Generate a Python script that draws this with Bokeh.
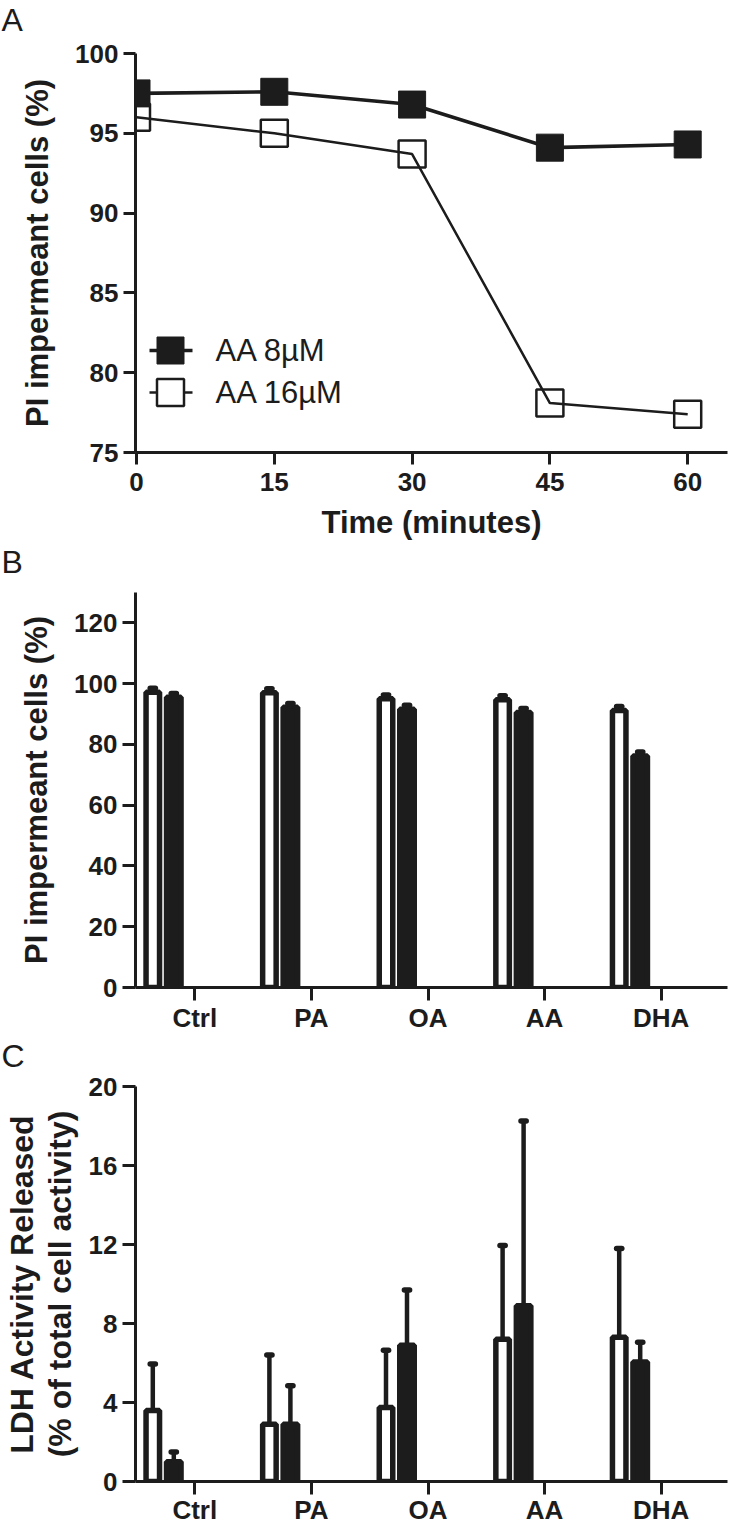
from bokeh.plotting import figure
from bokeh.layouts import column
from bokeh.models import FixedTicker, Range1d, Label, ColumnDataSource
from bokeh.embed import file_html
from bokeh.resources import INLINE

# ---------------- data ----------------
time_min = [0, 15, 30, 45, 60]
aa8_pct = [97.5, 97.6, 96.8, 94.1, 94.3]
aa16_pct = [96.0, 95.0, 93.7, 78.1, 77.4]
series_labels = ["AA 8µM", "AA 16µM"]
time_ticks = [0, 15, 30, 45, 60]
pi_ticks_a = [75, 80, 85, 90, 95, 100]

categories = ["Ctrl", "PA", "OA", "AA", "DHA"]
pi_white = [97.2, 97.0, 95.0, 94.7, 91.2]
pi_white_err = [1.3, 1.3, 1.3, 1.3, 1.3]
pi_black = [95.5, 92.2, 91.6, 90.5, 76.2]
pi_black_err = [1.3, 1.3, 1.3, 1.3, 1.3]
pi_ticks_b = [0, 20, 40, 60, 80, 100, 120]

ldh_white = [3.6, 2.9, 3.75, 7.2, 7.3]
ldh_white_err = [2.35, 3.5, 2.9, 4.75, 4.5]
ldh_black = [1.0, 2.9, 6.9, 8.9, 6.05]
ldh_black_err = [0.5, 1.95, 2.8, 9.35, 1.0]
ldh_ticks = [0, 4, 8, 12, 16, 20]

panel_letters = ["A", "B", "C"]

# ---------------- style ----------------
FONT = "Liberation Sans, Arial, sans-serif"
INK = "#1c1c1c"
W = 737
LEFT = 135
FRAME_W = 592
RIGHT = W - LEFT - FRAME_W


def style(p, tick_out, label_standoff, axis_label_standoff_x=4, axis_label_standoff_y=12):
    for ax in (p.xaxis[0], p.yaxis[0]):
        ax.axis_line_width = 3
        ax.axis_line_color = INK
        ax.major_tick_line_width = 3
        ax.major_tick_line_color = INK
        ax.major_tick_out = tick_out
        ax.major_tick_in = 0
        ax.minor_tick_line_color = None
        ax.major_label_text_font = FONT
        ax.major_label_text_font_style = "bold"
        ax.major_label_text_font_size = "26px"
        ax.major_label_text_color = INK
        ax.major_label_standoff = label_standoff
        ax.axis_label_text_font = FONT
        ax.axis_label_text_font_style = "bold"
        ax.axis_label_text_font_size = "31px"
        ax.axis_label_text_color = INK
    p.yaxis[0].major_label_standoff = 5
    p.xaxis[0].axis_label_standoff = axis_label_standoff_x
    p.yaxis[0].axis_label_standoff = axis_label_standoff_y
    p.grid.visible = False
    p.outline_line_color = None
    p.background_fill_color = "white"
    p.border_fill_color = "white"


def panel_title(p, letter, line_h):
    # panel letter as the plot title, pushed to the top-left corner of the canvas
    p.title.text = letter + "\n "
    p.title.align = "left"
    p.title.vertical_align = "top"
    p.title.offset = -134
    p.title.standoff = 0
    p.title.text_font = FONT
    p.title.text_font_size = "32px"
    p.title.text_font_style = "normal"
    p.title.text_line_height = line_h
    p.title.text_color = INK


# ---------------- panel A ----------------
A_PX_PER_MIN = 137.8 / 15
A_X0 = -1.0 / A_PX_PER_MIN
A_X1 = A_X0 + FRAME_W / A_PX_PER_MIN
A_FRAME_H = 399
a_ppy = A_FRAME_H / 25.0

pA = figure(width=W, height=543, x_range=Range1d(A_X0, A_X1), y_range=Range1d(75, 100),
            output_backend="svg", toolbar_location=None,
            min_border_left=LEFT, min_border_right=RIGHT,
            min_border_top=53, min_border_bottom=91)
style(pA, 12, 8, axis_label_standoff_x=11, axis_label_standoff_y=17)
panel_title(pA, panel_letters[0], 0.4)
pA.xaxis.ticker = FixedTicker(ticks=time_ticks)
pA.yaxis.ticker = FixedTicker(ticks=pi_ticks_a)
pA.xaxis.axis_label = "Time (minutes)"
pA.yaxis.axis_label = "PI impermeant cells (%)"

srcA = ColumnDataSource(dict(t=time_min, a8=aa8_pct, a16=aa16_pct))
pA.line("t", "a16", source=srcA, line_color=INK, line_width=2.5)
pA.scatter("t", "a16", source=srcA, marker="square", size=27, fill_alpha=0,
           line_color=INK, line_width=2.5)
pA.line("t", "a8", source=srcA, line_color=INK, line_width=3.6)
pA.scatter("t", "a8", source=srcA, marker="square", size=27, fill_color=INK,
           line_color=INK, line_width=1)


def ax_x(px_from_frame_left):
    return A_X0 + px_from_frame_left / A_PX_PER_MIN


def ax_y(px_from_frame_top):
    return 100 - px_from_frame_top / a_ppy


# manual legend (pixel offsets relative to the frame)
leg_rows = [297, 339]
for i, lab in enumerate(series_labels):
    yy = ax_y(leg_rows[i])
    pA.line([ax_x(14), ax_x(57)], [yy, yy], line_color=INK, line_width=3.6 if i == 0 else 2.5)
    if i == 0:
        pA.scatter([ax_x(35)], [yy], marker="square", size=27, fill_color=INK, line_color=INK)
    else:
        pA.scatter([ax_x(35)], [yy], marker="square", size=27, fill_color="white",
                   line_color=INK, line_width=2.5)
    pA.add_layout(Label(x=ax_x(80), y=yy, text=lab, text_font=FONT, text_font_size="31px",
                        text_color=INK, text_align="left", text_baseline="middle"))


# ---------------- bar panels ----------------
CAT_PX = 116.6
B_X0 = -59.3 / CAT_PX
B_X1 = B_X0 + FRAME_W / CAT_PX
WHITE_OFF = -42.0 / CAT_PX
BLACK_OFF = -21.0 / CAT_PX
WHITE_W = 13.5 / CAT_PX
BLACK_W = 14.5 / CAT_PX
CAP_HALF = 2.6 / CAT_PX


def bar_panel(height, top, bottom, ymax, ticks, white, white_err, black, black_err,
              ylabel, letter, letter_lh, label_size, tick_out, lab_standoff,
              ax_standoff, line_h):
    p = figure(width=W, height=height, x_range=Range1d(B_X0, B_X1), y_range=Range1d(0, ymax),
               output_backend="svg", toolbar_location=None,
               min_border_left=LEFT, min_border_right=RIGHT,
               min_border_top=top, min_border_bottom=bottom)
    style(p, tick_out, lab_standoff, axis_label_standoff_y=ax_standoff)
    panel_title(p, letter, letter_lh)
    p.yaxis[0].axis_label_text_font_size = label_size
    p.yaxis[0].axis_label_text_line_height = line_h
    p.xaxis.ticker = FixedTicker(ticks=list(range(len(categories))))
    p.xaxis.major_label_overrides = {i: c for i, c in enumerate(categories)}
    p.yaxis.ticker = FixedTicker(ticks=ticks)
    p.yaxis.axis_label = ylabel

    idx = list(range(len(categories)))
    xw = [i + WHITE_OFF for i in idx]
    xb = [i + BLACK_OFF for i in idx]
    wt = [v + e for v, e in zip(white, white_err)]
    bt = [v + e for v, e in zip(black, black_err)]
    src = ColumnDataSource(dict(xw=xw, xb=xb, white=white, black=black, wt=wt, bt=bt,
                                xw0=[x - CAP_HALF for x in xw], xw1=[x + CAP_HALF for x in xw],
                                xb0=[x - CAP_HALF for x in xb], xb1=[x + CAP_HALF for x in xb]))
    p.vbar(x="xw", top="white", bottom=0, width=WHITE_W, source=src,
           fill_color="white", line_color=INK, line_width=5.5)
    p.vbar(x="xb", top="black", bottom=0, width=BLACK_W, source=src,
           fill_color=INK, line_color=INK, line_width=5.5)
    p.segment(x0="xw", y0="white", x1="xw", y1="wt", source=src, line_color=INK, line_width=4.5)
    p.segment(x0="xb", y0="black", x1="xb", y1="bt", source=src, line_color=INK, line_width=4.5)
    p.segment(x0="xw0", y0="wt", x1="xw1", y1="wt", source=src, line_color=INK,
              line_width=5.5, line_cap="round")
    p.segment(x0="xb0", y0="bt", x1="xb1", y1="bt", source=src, line_color=INK,
              line_width=5.5, line_cap="round")
    return p


pB = bar_panel(494, 49, 50, 130, pi_ticks_b, pi_white, pi_white_err, pi_black, pi_black_err,
               "PI impermeant cells (%)", panel_letters[1], 0.3, "31px", 13, 2, 17, 1.2)
pC = bar_panel(490, 49, 46, 20, ldh_ticks, ldh_white, ldh_white_err, ldh_black, ldh_black_err,
               "LDH Activity Released\n(% of total cell activity)", panel_letters[2], 0.3,
               "32px", 13, 0, 8, 1.05)

layout = column(pA, pB, pC)
open("out.html", "w").write(file_html(layout, INLINE))
